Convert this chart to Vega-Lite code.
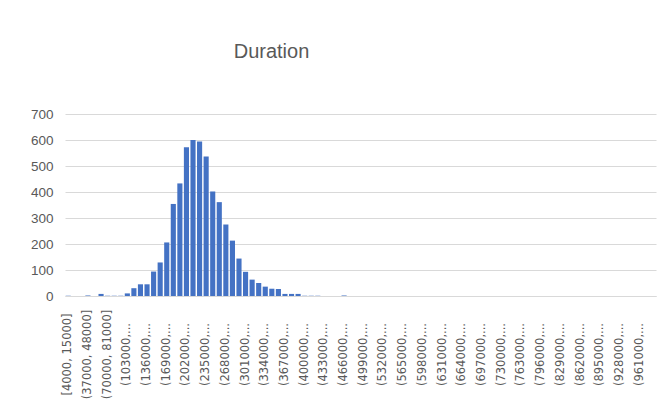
{
  "$schema": "https://vega.github.io/schema/vega-lite/v6.json",
  "autosize": {"type": "none"},
  "width": 591,
  "height": 182,
  "padding": {"left": 65, "top": 114, "right": 10, "bottom": 114},
  "background": "white",
  "title": {
    "text": "Duration",
    "font": "Liberation Sans",
    "fontSize": 20,
    "fontWeight": "normal",
    "color": "#595959",
    "anchor": "middle",
    "frame": "group",
    "baseline": "alphabetic",
    "dx": -89,
    "offset": 29
  },
  "data": {
    "values": [
      {"bin": "[4000, 15000]", "count": 1},
      {"bin": "(15000, 26000]", "count": 0},
      {"bin": "(26000, 37000]", "count": 0},
      {"bin": "(37000, 48000]", "count": 2},
      {"bin": "(48000, 59000]", "count": 0},
      {"bin": "(59000, 70000]", "count": 8},
      {"bin": "(70000, 81000]", "count": 1},
      {"bin": "(81000, 92000]", "count": 1},
      {"bin": "(92000, 103000]", "count": 1},
      {"bin": "(103000, 114000]", "count": 10},
      {"bin": "(114000, 125000]", "count": 30},
      {"bin": "(125000, 136000]", "count": 45},
      {"bin": "(136000, 147000]", "count": 45},
      {"bin": "(147000, 158000]", "count": 94},
      {"bin": "(158000, 169000]", "count": 129},
      {"bin": "(169000, 180000]", "count": 206},
      {"bin": "(180000, 191000]", "count": 354},
      {"bin": "(191000, 202000]", "count": 433},
      {"bin": "(202000, 213000]", "count": 572},
      {"bin": "(213000, 224000]", "count": 600},
      {"bin": "(224000, 235000]", "count": 594},
      {"bin": "(235000, 246000]", "count": 537},
      {"bin": "(246000, 257000]", "count": 402},
      {"bin": "(257000, 268000]", "count": 361},
      {"bin": "(268000, 279000]", "count": 275},
      {"bin": "(279000, 290000]", "count": 213},
      {"bin": "(290000, 301000]", "count": 144},
      {"bin": "(301000, 312000]", "count": 93},
      {"bin": "(312000, 323000]", "count": 63},
      {"bin": "(323000, 334000]", "count": 50},
      {"bin": "(334000, 345000]", "count": 36},
      {"bin": "(345000, 356000]", "count": 28},
      {"bin": "(356000, 367000]", "count": 27},
      {"bin": "(367000, 378000]", "count": 8},
      {"bin": "(378000, 389000]", "count": 8},
      {"bin": "(389000, 400000]", "count": 8},
      {"bin": "(400000, 411000]", "count": 1},
      {"bin": "(411000, 422000]", "count": 1},
      {"bin": "(422000, 433000]", "count": 1},
      {"bin": "(433000, 444000]", "count": 0},
      {"bin": "(444000, 455000]", "count": 0},
      {"bin": "(455000, 466000]", "count": 0},
      {"bin": "(466000, 477000]", "count": 2},
      {"bin": "(477000, 488000]", "count": 0},
      {"bin": "(488000, 499000]", "count": 0},
      {"bin": "(499000, 510000]", "count": 0},
      {"bin": "(510000, 521000]", "count": 0},
      {"bin": "(521000, 532000]", "count": 0},
      {"bin": "(532000, 543000]", "count": 0},
      {"bin": "(543000, 554000]", "count": 0},
      {"bin": "(554000, 565000]", "count": 0},
      {"bin": "(565000, 576000]", "count": 0},
      {"bin": "(576000, 587000]", "count": 0},
      {"bin": "(587000, 598000]", "count": 0},
      {"bin": "(598000, 609000]", "count": 0},
      {"bin": "(609000, 620000]", "count": 0},
      {"bin": "(620000, 631000]", "count": 0},
      {"bin": "(631000, 642000]", "count": 0},
      {"bin": "(642000, 653000]", "count": 0},
      {"bin": "(653000, 664000]", "count": 0},
      {"bin": "(664000, 675000]", "count": 0},
      {"bin": "(675000, 686000]", "count": 0},
      {"bin": "(686000, 697000]", "count": 0},
      {"bin": "(697000, 708000]", "count": 0},
      {"bin": "(708000, 719000]", "count": 0},
      {"bin": "(719000, 730000]", "count": 0},
      {"bin": "(730000, 741000]", "count": 0},
      {"bin": "(741000, 752000]", "count": 0},
      {"bin": "(752000, 763000]", "count": 0},
      {"bin": "(763000, 774000]", "count": 0},
      {"bin": "(774000, 785000]", "count": 0},
      {"bin": "(785000, 796000]", "count": 0},
      {"bin": "(796000, 807000]", "count": 0},
      {"bin": "(807000, 818000]", "count": 0},
      {"bin": "(818000, 829000]", "count": 0},
      {"bin": "(829000, 840000]", "count": 0},
      {"bin": "(840000, 851000]", "count": 0},
      {"bin": "(851000, 862000]", "count": 0},
      {"bin": "(862000, 873000]", "count": 0},
      {"bin": "(873000, 884000]", "count": 0},
      {"bin": "(884000, 895000]", "count": 0},
      {"bin": "(895000, 906000]", "count": 0},
      {"bin": "(906000, 917000]", "count": 0},
      {"bin": "(917000, 928000]", "count": 0},
      {"bin": "(928000, 939000]", "count": 0},
      {"bin": "(939000, 950000]", "count": 0},
      {"bin": "(950000, 961000]", "count": 0},
      {"bin": "(961000, 972000]", "count": 0},
      {"bin": "(972000, 983000]", "count": 0},
      {"bin": "(983000, 994000]", "count": 0}
    ]
  },
  "mark": {"type": "bar", "color": "#4472C4"},
  "encoding": {
    "x": {
      "field": "bin",
      "type": "nominal",
      "sort": null,
      "title": null,
      "scale": {"paddingInner": 0.22, "paddingOuter": 0.1},
      "axis": {
        "values": ["[4000, 15000]", "(37000, 48000]", "(70000, 81000]", "(103000, 114000]", "(136000, 147000]", "(169000, 180000]", "(202000, 213000]", "(235000, 246000]", "(268000, 279000]", "(301000, 312000]", "(334000, 345000]", "(367000, 378000]", "(400000, 411000]", "(433000, 444000]", "(466000, 477000]", "(499000, 510000]", "(532000, 543000]", "(565000, 576000]", "(598000, 609000]", "(631000, 642000]", "(664000, 675000]", "(697000, 708000]", "(730000, 741000]", "(763000, 774000]", "(796000, 807000]", "(829000, 840000]", "(862000, 873000]", "(895000, 906000]", "(928000, 939000]", "(961000, 972000]"],
        "labelExpr": "length(datum.label) > 14 ? slice(datum.label, 0, 8) + '...' : datum.label",
        "labelAngle": -90,
        "labelAlign": "center",
        "labelBaseline": "middle",
        "labelPadding": 58,
        "labelFont": "DejaVu Sans",
        "labelFontSize": 11.5,
        "labelColor": "#595959",
        "labelOverlap": false,
        "labelLimit": 200,
        "ticks": false,
        "grid": false,
        "domain": true,
        "domainColor": "#d9d9d9",
        "domainWidth": 1
      }
    },
    "y": {
      "field": "count",
      "type": "quantitative",
      "title": null,
      "scale": {"domain": [0, 700], "nice": false},
      "axis": {
        "values": [0, 100, 200, 300, 400, 500, 600, 700],
        "grid": true,
        "gridColor": "#d9d9d9",
        "gridWidth": 1,
        "domain": false,
        "ticks": false,
        "labelPadding": 12,
        "labelFont": "Liberation Sans",
        "labelFontSize": 13.5,
        "labelColor": "#595959"
      }
    }
  },
  "config": {"view": {"stroke": null}}
}
